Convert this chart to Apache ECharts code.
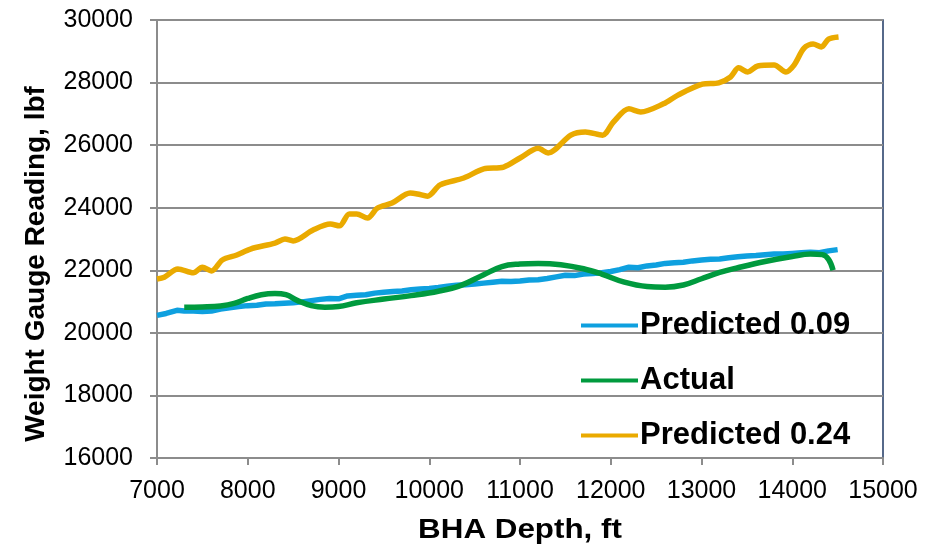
<!DOCTYPE html>
<html><head><meta charset="utf-8">
<script src="https://cdn.jsdelivr.net/npm/echarts@6/dist/echarts.min.js"></script>
<style>html,body{margin:0;padding:0;background:#fff}#c{width:939px;height:546px}</style>
</head><body><div id="c"></div>
<script>
var seriesNames = ['Predicted 0.09', 'Actual', 'Predicted 0.24'];
var blueDepth = [7000,7100,7220,7300,7400,7500,7600,7700,7800,7900,8000,8100,8200,8300,8400,8500,8600,8700,8800,8900,9000,9100,9200,9300,9400,9500,9600,9700,9800,9900,10000,10100,10200,10300,10400,10500,10600,10700,10800,10900,11000,11100,11200,11300,11400,11500,11600,11700,11800,11900,12000,12100,12200,12300,12400,12500,12600,12700,12800,12900,13000,13100,13200,13300,13400,13500,13600,13700,13800,13900,14000,14100,14200,14300,14400,14500];
var blueVals = [20560,20620,20720,20700,20700,20680,20700,20760,20800,20840,20870,20880,20920,20930,20950,20960,20990,21030,21070,21100,21090,21180,21200,21220,21270,21300,21320,21340,21380,21400,21420,21450,21490,21520,21540,21560,21590,21620,21650,21640,21660,21690,21700,21740,21790,21840,21830,21880,21900,21920,21960,22020,22100,22080,22140,22170,22220,22240,22260,22300,22330,22350,22360,22400,22430,22460,22470,22500,22520,22520,22540,22560,22580,22560,22620,22660];
var greenDepth = [7300,7500,7700,7850,8000,8150,8300,8420,8550,8700,8850,9000,9200,9500,9800,10100,10350,10600,10800,11000,11200,11450,11700,11900,12150,12400,12600,12800,13000,13200,13400,13700,14000,14200,14330,14400,14450];
var greenVals = [20820,20830,20860,20940,21100,21220,21260,21220,21030,20870,20820,20840,20960,21080,21190,21330,21520,21860,22120,22200,22220,22180,22050,21880,21620,21480,21460,21530,21730,21930,22080,22280,22440,22520,22500,22350,22000];
var yellowDepth = [7000,7080,7230,7400,7500,7600,7720,7880,8030,8300,8410,8500,8720,8910,9010,9120,9200,9320,9430,9590,9790,9870,9980,10120,10380,10600,10820,11000,11200,11310,11560,11720,11910,12030,12200,12330,12580,12740,13010,13190,13320,13410,13510,13620,13800,13930,14020,14130,14230,14320,14400,14510];
var yellowVals = [21720,21780,22040,21920,22100,21980,22330,22490,22680,22870,23000,22940,23290,23480,23420,23800,23800,23670,23990,24150,24470,24440,24370,24730,24950,25240,25300,25590,25900,25750,26320,26420,26320,26740,27160,27060,27320,27600,27950,27990,28180,28470,28340,28530,28560,28340,28560,29100,29230,29140,29390,29460];
var xTicks = [7000,8000,9000,10000,11000,12000,13000,14000,15000];
var yTicks = [16000,18000,20000,22000,24000,26000,28000,30000];
var xTitle = 'BHA Depth, ft';
var yTitle = 'Weight Gauge Reading, lbf';

function zip(a,b){return a.map(function(v,i){return [v,b[i]];});}
var colors = ['#0EA0DF', '#009A3E', '#EAAA00'];
var chart = echarts.init(document.getElementById('c'), null, {renderer:'canvas'});
chart.setOption({
  animation:false,
  backgroundColor:'#fff',
  grid:{left:157,right:56,top:20,bottom:88,show:true,borderColor:'#1F3864',borderWidth:1.5,backgroundColor:'transparent'},
  xAxis:{type:'value',min:xTicks[0],max:xTicks[xTicks.length-1],interval:1000,
    axisLine:{show:true,onZero:false,lineStyle:{color:'#8C8C8C',width:2}},
    axisTick:{show:true,length:7,lineStyle:{color:'#8C8C8C',width:2}},
    axisLabel:{color:'#000',fontFamily:'Liberation Sans, Arial',fontSize:25,margin:21,formatter:function(v){return String(v);}},
    splitLine:{show:false}},
  yAxis:{type:'value',min:yTicks[0],max:yTicks[yTicks.length-1],interval:2000,
    axisLine:{show:true,onZero:false,lineStyle:{color:'#8C8C8C',width:2}},
    axisTick:{show:true,length:7,lineStyle:{color:'#8C8C8C',width:2}},
    axisLabel:{color:'#000',fontFamily:'Liberation Sans, Arial',fontSize:25,margin:24,formatter:function(v){return String(v);}},
    splitLine:{show:true,lineStyle:{color:'#8C8C8C',width:2}}},
  legend:{orient:'vertical',left:576,top:305,itemWidth:57,itemHeight:14,itemGap:24,
    data:seriesNames,
    textStyle:{fontFamily:'Liberation Sans, Arial',fontWeight:'bold',fontSize:31,color:'#000',padding:[0,0,0,-3]},
    icon:'path://M0,5 L57,5 L57,9 L0,9 Z'},
  graphic:[
    {type:'text',x:520,y:530,scaleX:1.12,style:{text:xTitle,font:'bold 28px "Liberation Sans", Arial',fill:'#000',align:'center',verticalAlign:'middle'}},
    {type:'text',rotation:Math.PI/2,x:36,y:264,style:{text:yTitle,font:'bold 28px "Liberation Sans", Arial',fill:'#000',align:'center',verticalAlign:'middle'}}
  ],
  series:[
    {name:seriesNames[0],type:'line',data:zip(blueDepth,blueVals),showSymbol:false,symbol:'none',smooth:false,lineStyle:{color:colors[0],width:5.5},itemStyle:{color:colors[0]},z:3},
    {name:seriesNames[1],type:'line',data:zip(greenDepth,greenVals),showSymbol:false,symbol:'none',smooth:0.4,lineStyle:{color:colors[1],width:5.5},itemStyle:{color:colors[1]},z:4},
    {name:seriesNames[2],type:'line',data:zip(yellowDepth,yellowVals),showSymbol:false,symbol:'none',smooth:0.3,lineStyle:{color:colors[2],width:5.5},itemStyle:{color:colors[2]},z:2}
  ]
});
</script></body></html>
